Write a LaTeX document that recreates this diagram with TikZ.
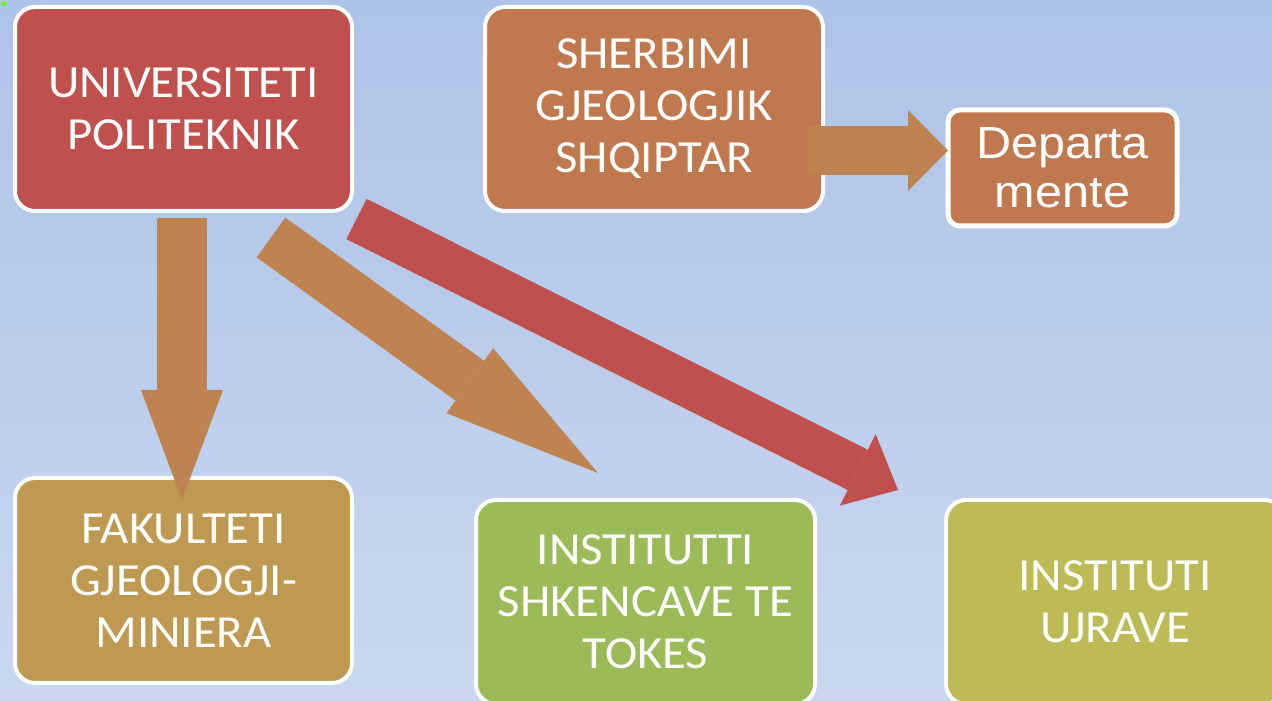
\documentclass[tikz,border=0pt]{standalone}
\usepackage{fontspec}
\newfontfamily\carl[FakeStretch=1.06]{Carlito}
\newfontfamily\arialf[FakeStretch=1.08]{Liberation Sans}
\usetikzlibrary{arrows.meta}
\definecolor{bgtop}{HTML}{ADC3E8}
\definecolor{bgbot}{HTML}{CAD7EF}
\definecolor{cred}{HTML}{C0504D}
\definecolor{corange}{HTML}{C0784F}
\definecolor{carrow}{HTML}{BF8351}
\definecolor{cgold}{HTML}{BD9951}
\definecolor{cgreen}{HTML}{9BBB59}
\definecolor{colive}{HTML}{BCBB55}
\tikzset{
  box/.style={draw=white, line width=4pt, rounded corners=20pt, minimum width=337pt,
    minimum height=204pt, inner sep=0pt, text=white, align=center,
    font=\carl\fontsize{46}{52}\selectfont},
  smallbox/.style={draw=white, line width=5pt, rounded corners=12pt, minimum width=229pt,
    minimum height=116pt, inner sep=0pt, text=white, align=center, fill=corange,
    font=\arialf\fontsize{45}{49}\selectfont},
  blockarrow/.style={line width=#1, line cap=butt},
}
\begin{document}
\begin{tikzpicture}[x=1pt,y=1pt]
\useasboundingbox (0,0) rectangle (1272,701);
\clip (0,0) rectangle (1272,701);
\shade[top color=bgtop, bottom color=bgbot] (0,0) rectangle (1272,701);
\fill[green!60!yellow] (4,697) circle (2.5);
% boxes
\node[box, fill=cred] (uni) at (183.5,592) {UNIVERSITETI\\POLITEKNIK};
\node[box, fill=corange, minimum width=338pt] (sherb) at (654,592) {SHERBIMI\\GJEOLOGJIK\\SHQIPTAR};
\node[smallbox] (dep) at (1062.5,533) {Departa\\mente};
\node[box, fill=cgold, minimum height=205pt] (fak) at (183.5,120.5) {FAKULTETI\\GJEOLOGJI-\\MINIERA};
\node[box, fill=cgreen, minimum width=339pt] (ist) at (645.5,99) {INSTITUTTI\\SHKENCAVE TE\\TOKES};
\node[box, fill=colive, minimum width=338pt] (iuj) at (1115,99) {INSTITUTI\\UJRAVE};
% arrow end points
\coordinate (a1s) at (182,483);
\coordinate (a1e) at (182,201);
\coordinate (a2s) at (271,463.5);
\coordinate (a2e) at (598,228);
\coordinate (a3s) at (356.5,482);
\coordinate (a3e) at (898,211);
\coordinate (a4s) at (808,550.5);
\coordinate (a4e) at (948,550.5);
% arrows
\draw[carrow, blockarrow=50pt, -{Triangle[length=110pt,width=82pt,line width=0pt]}] (a1s) -- (a1e);
\draw[carrow, blockarrow=49pt, -{Triangle[length=158pt,width=80pt,line width=0pt]}] (a2s) -- (a2e);
\draw[cred, blockarrow=45pt, -{Triangle[length=45pt,width=80pt,line width=0pt]}] (a3s) -- (a3e);
\draw[carrow, blockarrow=49pt, -{Triangle[length=40pt,width=81pt,line width=0pt]}] (a4s) -- (a4e);
\end{tikzpicture}
\end{document}
